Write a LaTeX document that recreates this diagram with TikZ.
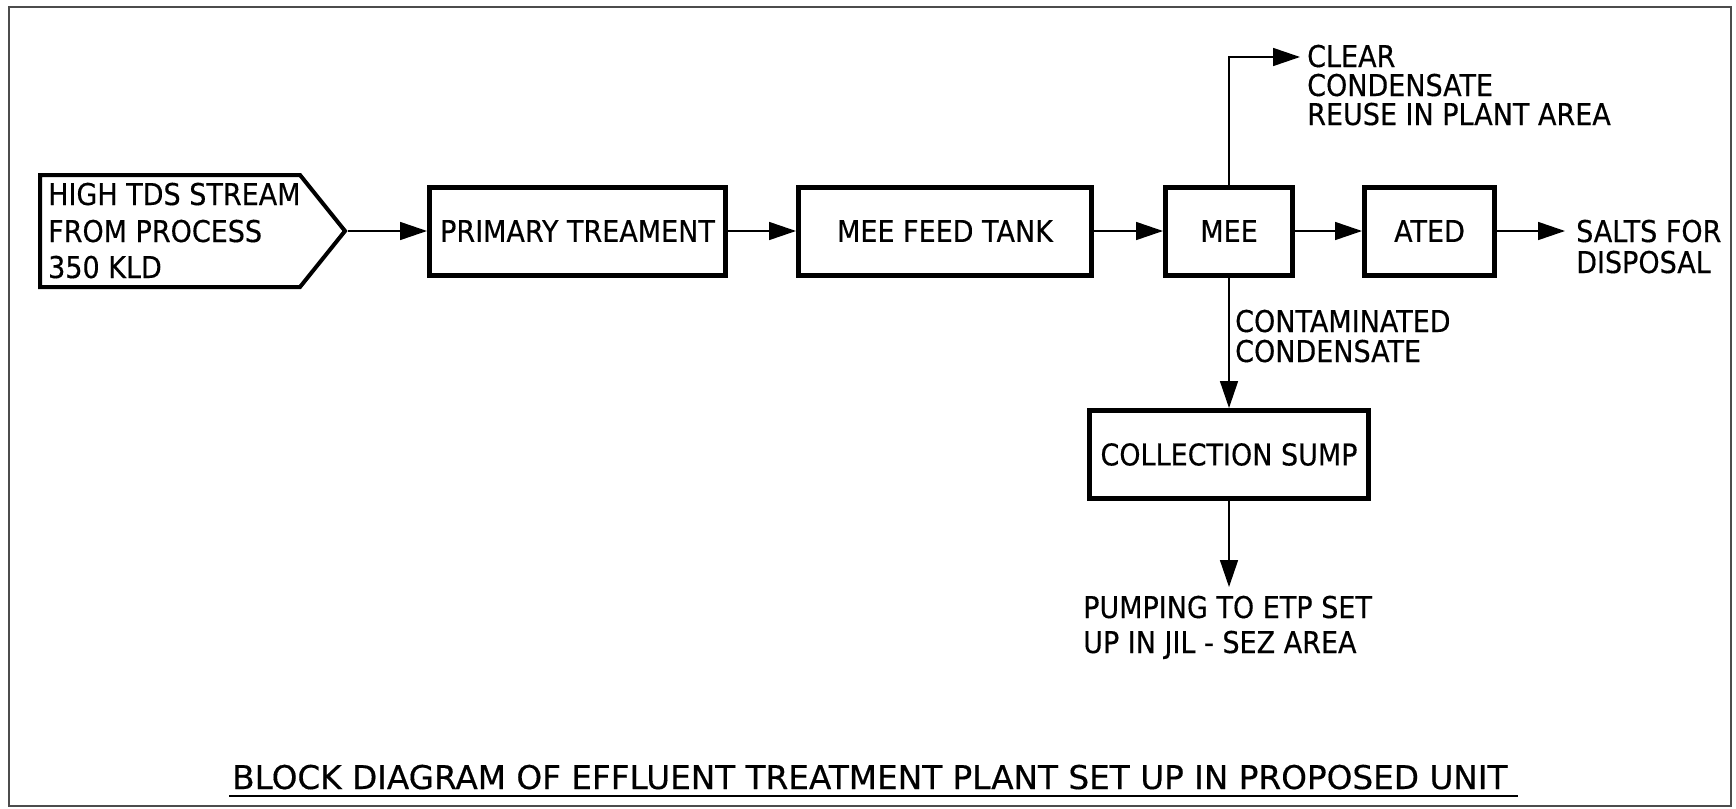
\documentclass[tikz,border=0pt]{standalone}
\usepackage{fontspec}
\usetikzlibrary{arrows.meta}
\newfontfamily\lblfont[FakeStretch=0.9,FakeBold=0.4]{DejaVu Sans}
\newfontfamily\ttlfont[FakeBold=0.4]{DejaVu Sans}
\begin{document}
\begin{tikzpicture}[x=1pt,y=-1pt,
  box/.style={draw, line width=5pt, minimum height=88pt, inner sep=0pt,
    font=\lblfont\fontsize{30}{34}\selectfont},
  conn/.style={line width=1.6pt, -{Triangle[length=27pt,width=18pt]}},
  lbl/.style={anchor=base west, inner sep=0pt, font=\lblfont\fontsize{30}{34}\selectfont},
]
\useasboundingbox (0,0) rectangle (1736,808);
% outer frame
\draw[line width=2pt, draw=black!70] (9,7) rectangle (1731,806);

% source pentagon
\draw[line width=4pt, line join=miter] (40,175) -- (300,175) -- (345,231) -- (300,287) -- (40,287) -- cycle;
\coordinate (srctip) at (348,231);
\node[lbl] (src1) at (48,205) {HIGH TDS STREAM};
\node[lbl] (src2) at (48,242) {FROM PROCESS};
\node[lbl] (src3) at (48,278) {350 KLD};

% boxes
\node[box, minimum width=296pt] (prim) at (577.5,231) {PRIMARY TREAMENT};
\node[box, minimum width=293pt] (feed) at (945,231) {MEE FEED TANK};
\node[box, minimum width=127pt] (mee) at (1229,231) {MEE};
\node[box, minimum width=130pt] (ated) at (1429.5,231) {ATED};
\node[box, minimum width=279pt] (sump) at (1229,454.5) {COLLECTION SUMP};

% free ends
\coordinate (clearend) at (1300,57);
\coordinate (saltend) at (1565,231);
\coordinate (pumpend) at (1229,587);

% connectors
\draw[conn] (srctip) -- (prim.west);
\draw[conn] (prim.east) -- (feed.west);
\draw[conn] (feed.east) -- (mee.west);
\draw[conn] (mee.east) -- (ated.west);
\draw[conn] (ated.east) -- (saltend);
\draw[conn] (mee.north) |- (clearend);
\draw[conn] (mee.south) -- (sump.north);
\draw[conn] (sump.south) -- (pumpend);

% labels
\node[lbl] (clr1) at (1307,67) {CLEAR};
\node[lbl] (clr2) at (1307,96) {CONDENSATE};
\node[lbl] (clr3) at (1307,125) {REUSE IN PLANT AREA};
\node[lbl] (slt1) at (1576,242) {SALTS FOR};
\node[lbl] (slt2) at (1576,273) {DISPOSAL};
\node[lbl] (con1) at (1235,332) {CONTAMINATED};
\node[lbl] (con2) at (1235,362) {CONDENSATE};
\node[lbl] (pmp1) at (1083,618) {PUMPING TO ETP SET};
\node[lbl] (pmp2) at (1083,653) {UP IN JIL - SEZ AREA};

% title
\node[anchor=base west, inner sep=0pt, font=\ttlfont\fontsize{32.7}{36}\selectfont] (title) at (232,789)
  {BLOCK DIAGRAM OF EFFLUENT TREATMENT PLANT SET UP IN PROPOSED UNIT};
\draw[line width=2pt] (229,796) -- (1518,796);
\end{tikzpicture}
\end{document}
